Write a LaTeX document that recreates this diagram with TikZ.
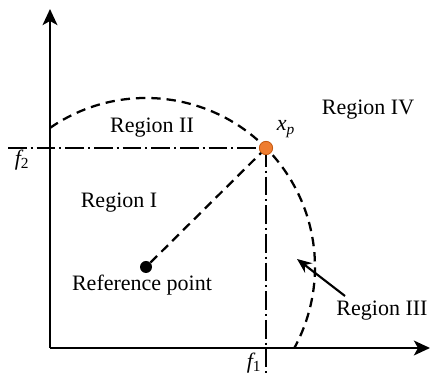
\documentclass[tikz,border=0pt]{standalone}
\usepackage{fontspec}
\setmainfont{Liberation Serif}
\usetikzlibrary{arrows.meta}
\definecolor{pointorange}{HTML}{EE7D31}
\definecolor{pointedge}{HTML}{C55A11}

\begin{document}
\begin{tikzpicture}[x=0.75pt,y=0.75pt,font=\fontsize{16.5}{19}\selectfont,
    axis/.style={line width=2pt,-{Stealth[length=12pt,width=11pt,inset=3pt]}},
    boundary/.style={line width=1.7pt,dash pattern=on 7pt off 4.5pt},
    level/.style={line width=1.5pt,dash pattern=on 14pt off 3pt on 1.5pt off 3pt},
    lbl/.style={inner sep=0pt},
    sym/.style={inner sep=0pt,font=\fontsize{16.5}{19}\selectfont\itshape}]
        \useasboundingbox (0,0) rectangle (431,377);
        \coordinate (O) at (50,29);
        \coordinate (ytop) at (50,368);
        \coordinate (xend) at (430,29);
        \coordinate (hleft) at (8,229);
        \coordinate (vlow) at (266,4);
        % dashed boundary round the reference point
        \draw[boundary] (146,110) ++(124.6:169) arc[start angle=124.6,end angle=-28.7,radius=169];
        \draw[level] (hleft) -- (266,229);
        \draw[level] (266,229) -- (vlow);
        \draw[axis] (O) -- (ytop);
        \draw[axis] (O) -- (xend);
        \node[circle,fill=black,inner sep=0pt,minimum size=9pt] (ref) at (146,110) {};
        \node[circle,fill=pointorange,draw=pointedge,line width=.6pt,inner sep=0pt,minimum size=10pt] (xp) at (266,229) {};
        \draw[boundary] (ref) -- (xp);
        \node[sym] (lblxp) at (286,248) {x\textsubscript{p}};
        \node[sym] (lblf2) at (22,217) {f\textsubscript{\upshape 2}};
        \node[sym] (lblf1) at (254,14) {f\textsubscript{\upshape 1}};
        \node[lbl] (r2) at (152,249) {Region II};
        \node[lbl] (r1) at (119,174) {Region I};
        \node[lbl] (r4) at (368,267) {Region IV};
        \node[lbl] (rp) at (142,92) {Reference point};
        \node[lbl] (r3) at (382,66) {Region III};
        \coordinate (r3tip) at (297,118);
        \draw[line width=1.6pt,-{Stealth[length=11pt,width=9pt]}] (345,81) -- (r3tip);
      \end{tikzpicture}
\end{document}
